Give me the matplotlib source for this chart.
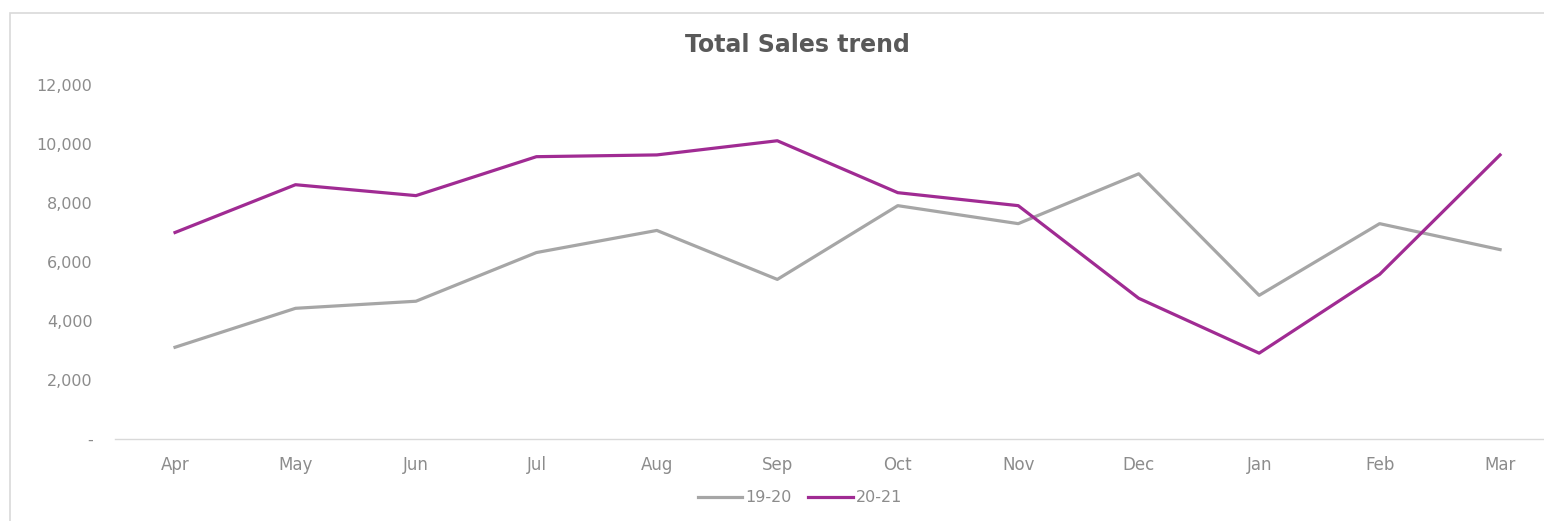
import matplotlib
matplotlib.use("Agg")
import matplotlib.pyplot as plt
from matplotlib.patches import Rectangle
from matplotlib.ticker import FuncFormatter

months = ["Apr", "May", "Jun", "Jul", "Aug", "Sep", "Oct", "Nov", "Dec", "Jan", "Feb", "Mar"]
sales_19_20 = [3110, 4430, 4670, 6320, 7070, 5410, 7910, 7300, 8990, 4870, 7300, 6420]
sales_20_21 = [7000, 8620, 8250, 9570, 9630, 10110, 8350, 7910, 4770, 2910, 5580, 9630]
y_ticks = [0, 2000, 4000, 6000, 8000, 10000, 12000]

W, H = 1544, 521
fig = plt.figure(figsize=(W / 100, H / 100), dpi=100)
fig.patch.set_facecolor("white")

# outer chart border
fig.add_artist(Rectangle((10 / W, -0.05), 1.1, (H - 13) / H + 0.05, transform=fig.transFigure,
                         fill=False, edgecolor="#D9D9D9", linewidth=1.2))

left = 114.8 / W
width = (1560.3 - 114.8) / W
bottom = (H - 439) / H
height = (439 - 85) / H
ax = fig.add_axes([left, bottom, width, height])

x = list(range(len(months)))
ax.plot(x, sales_19_20, color="#A6A6A6", linewidth=2.3, label="19-20", solid_joinstyle="round")
ax.plot(x, sales_20_21, color="#A02B93", linewidth=2.3, label="20-21", solid_joinstyle="round")

ax.set_xlim(-0.5, len(months) - 0.5)
ax.set_ylim(0, 12000)
ax.set_xticks(x)
ax.set_xticklabels(months)
ax.set_yticks(y_ticks)
ax.yaxis.set_major_formatter(FuncFormatter(lambda v, p: "-" if v == 0 else f"{int(v):,}"))

for s in ["top", "right", "left"]:
    ax.spines[s].set_visible(False)
ax.spines["bottom"].set_color("#D9D9D9")
ax.spines["bottom"].set_linewidth(1.0)
ax.tick_params(axis="x", length=0, pad=12, labelsize=12, labelcolor="#8C8C8C")
ax.tick_params(axis="y", length=0, pad=16, labelsize=11.5, labelcolor="#8C8C8C")

fig.text(797 / W, 1 - 45 / H, "Total Sales trend", ha="center", va="center",
         fontsize=17, fontweight="bold", color="#595959")

leg = fig.legend(loc="center", bbox_to_anchor=(800 / W, 1 - 498 / H), ncol=2, frameon=False,
                 fontsize=11.5, handlelength=2.8, columnspacing=1.0, handletextpad=0.2)
for t in leg.get_texts():
    t.set_color("#8C8C8C")

fig.savefig("out.png", dpi=100)
